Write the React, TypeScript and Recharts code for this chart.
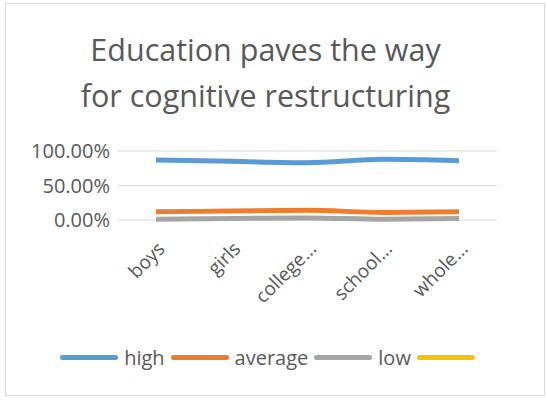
import { LineChart, Line, XAxis, YAxis, CartesianGrid, Legend } from 'recharts'

const categories = ['boys', 'girls', 'college...', 'school...', 'whole...']
const high = [0.87, 0.85, 0.83, 0.88, 0.86]
const average = [0.12, 0.13, 0.14, 0.11, 0.12]
const low = [0.01, 0.02, 0.03, 0.01, 0.02]
const extra = [null, null, null, null, null]

const seriesKeys = ['high', 'average', 'low', 'extra']
const seriesNames = ['high', 'average', 'low', '']
const seriesColors = ['#5B9BD5', '#ED7D31', '#A5A5A5', '#FFC000']

const yTicks = [0, 0.5, 1]

const data = categories.map((name, i) => ({
  name,
  high: high[i],
  average: average[i],
  low: low[i],
  extra: extra[i],
}))

const FONT = '"Open Sans", sans-serif'
const TEXT = '#595959'

function formatPct(v: number) {
  return `${(v * 100).toFixed(2)}%`
}

function CategoryTick({ x, y, payload }: any) {
  const ax = x + 10
  const ay = y + 22
  return (
    <text
      x={ax}
      y={ay}
      textAnchor="end"
      transform={`rotate(-45 ${ax} ${ay})`}
      fill={TEXT}
      fontSize={19}
      fontFamily={FONT}
    >
      {payload.value}
    </text>
  )
}

function LegendContent({ payload }: any) {
  const items = [...(payload || [])].sort(
    (a: any, b: any) => seriesKeys.indexOf(a.dataKey) - seriesKeys.indexOf(b.dataKey)
  )
  return (
    <div style={{ display: 'flex', justifyContent: 'center', alignItems: 'center', fontFamily: FONT, fontSize: 20, color: TEXT }}>
      {items.map((it: any) => (
        <div key={it.dataKey} style={{ display: 'flex', alignItems: 'center', marginRight: 6 }}>
          <div style={{ width: 58, height: 5, borderRadius: 3, background: it.color, marginRight: 6 }} />
          <span>{it.value}</span>
        </div>
      ))}
    </div>
  )
}

export default function App() {
  return (
    <div style={{ position: 'fixed', left: 0, top: 0, width: 547, height: 401, background: '#fff' }}>
      <div
        style={{
          position: 'absolute',
          left: 5,
          top: 3,
          width: 538,
          height: 391,
          border: '1px solid #d9d9d9',
        }}
      />
      <div
        style={{
          position: 'absolute',
          left: 0,
          top: 26,
          width: 531,
          textAlign: 'center',
          fontFamily: FONT,
          fontSize: 30.5,
          lineHeight: '46px',
          color: TEXT,
        }}
      >
        Education paves the way
        <br />
        for cognitive restructuring
      </div>
      <div style={{ position: 'absolute', left: 0, top: 0 }}>
        <LineChart
          width={547}
          height={401}
          data={data}
          margin={{ top: 151, right: 50, bottom: 74, left: 18 }}
        >
          <CartesianGrid vertical={false} stroke="#d9d9d9" />
          <XAxis
            dataKey="name"
            axisLine={false}
            tickLine={false}
            height={80}
            interval={0}
            padding={{ left: 38, right: 38 }}
            tick={<CategoryTick />}
          />
          <YAxis
            domain={[0, 1]}
            ticks={yTicks}
            width={100}
            axisLine={false}
            tickLine={false}
            tickFormatter={formatPct}
            tick={{ fill: TEXT, fontSize: 20, fontFamily: FONT }}
          />
          <Legend
            verticalAlign="bottom"
            content={<LegendContent />}
            wrapperStyle={{ top: 344, left: 0, width: 547 }}
          />
          {seriesKeys.map((k, i) => (
            <Line
              key={k}
              type="monotone"
              dataKey={k}
              name={seriesNames[i]}
              stroke={seriesColors[i]}
              strokeWidth={5}
              dot={false}
              isAnimationActive={false}
            />
          ))}
        </LineChart>
      </div>
    </div>
  )
}
